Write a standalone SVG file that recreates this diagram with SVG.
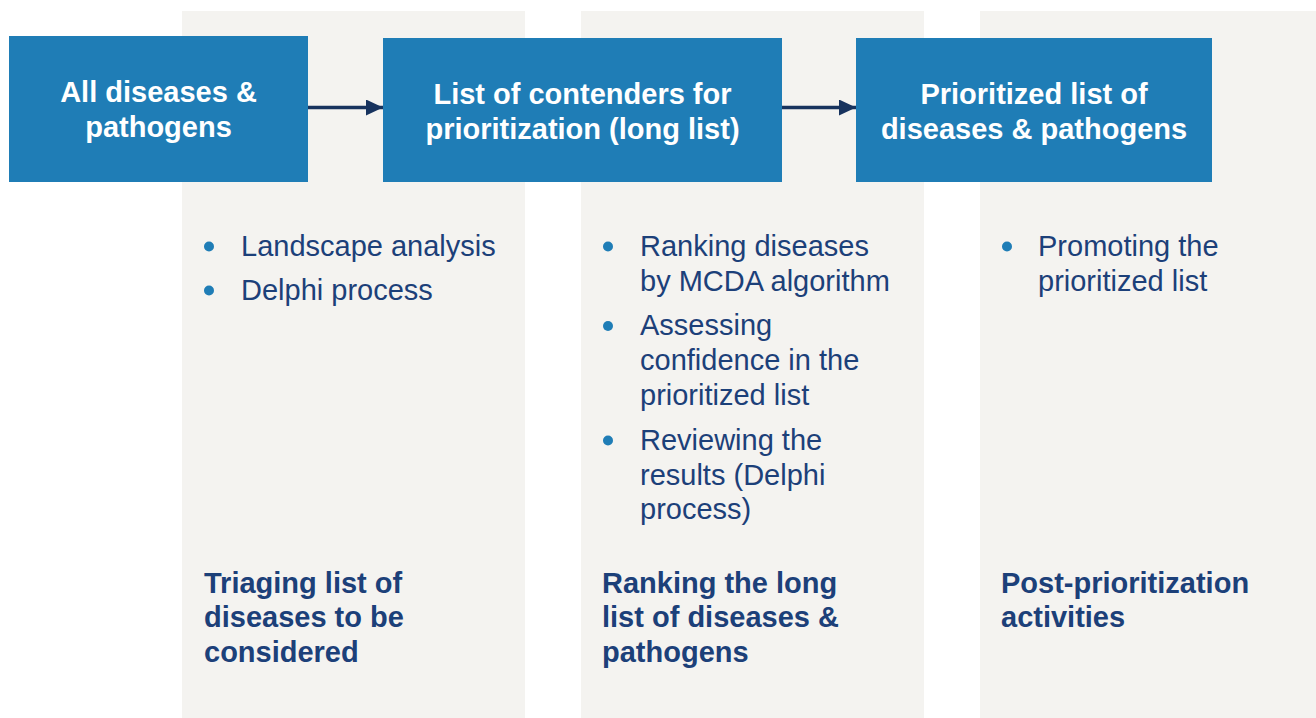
<svg xmlns="http://www.w3.org/2000/svg" width="1316" height="718" viewBox="0 0 1316 718">
<defs>
<style>
.panel{fill:#f4f3f0}
.box{fill:#1f7db6}
.bt{font-family:"Liberation Sans",Arial,sans-serif;font-weight:bold;font-size:29px;fill:#ffffff;text-anchor:middle}
.li{font-family:"Liberation Sans",Arial,sans-serif;font-size:29px;fill:#1c4079}
.ti{font-family:"Liberation Sans",Arial,sans-serif;font-weight:bold;font-size:29px;fill:#1c4079}
.dot{fill:#1f7db6}
.conn{stroke:#17335e;stroke-width:3.5;fill:none}
</style>
<marker id="ah" markerUnits="userSpaceOnUse" markerWidth="17" markerHeight="16" refX="17" refY="8" orient="auto">
<path d="M0,0 L17,8 L0,16 Z" fill="#17335e"/>
</marker>
</defs>
<rect width="1316" height="718" fill="#ffffff"/>
<g id="panels">
<rect class="panel" x="182" y="11" width="343" height="707"/>
<rect class="panel" x="581" y="11" width="343" height="707"/>
<rect class="panel" x="980" y="11" width="336" height="707"/>
</g>
<g id="connectors">
<line class="conn" x1="308" y1="107.5" x2="383" y2="107.5" marker-end="url(#ah)"/>
<line class="conn" x1="782" y1="107.5" x2="856" y2="107.5" marker-end="url(#ah)"/>
</g>
<g id="node1">
<rect class="box" x="9" y="36" width="299" height="146"/>
<text class="bt" x="158.5" y="102">All diseases &amp;</text>
<text class="bt" x="158.5" y="137">pathogens</text>
</g>
<g id="node2">
<rect class="box" x="383" y="38" width="399" height="144"/>
<text class="bt" x="582.5" y="103.5">List of contenders for</text>
<text class="bt" x="582.5" y="138.5">prioritization (long list)</text>
</g>
<g id="node3">
<rect class="box" x="856" y="38" width="356" height="144"/>
<text class="bt" x="1034" y="103.5">Prioritized list of</text>
<text class="bt" x="1034" y="138.5">diseases &amp; pathogens</text>
</g>
<g id="list1">
<circle class="dot" cx="209" cy="246.5" r="5"/>
<text class="li" x="241" y="256">Landscape analysis</text>
<circle class="dot" cx="209" cy="290.5" r="5"/>
<text class="li" x="241" y="300">Delphi process</text>
<text class="ti" x="204" y="593">Triaging list of</text>
<text class="ti" x="204" y="627">diseases to be</text>
<text class="ti" x="204" y="662">considered</text>
</g>
<g id="list2">
<circle class="dot" cx="608" cy="246.5" r="5"/>
<text class="li" x="640" y="256">Ranking diseases</text>
<text class="li" x="640" y="291">by MCDA algorithm</text>
<circle class="dot" cx="608" cy="326" r="5"/>
<text class="li" x="640" y="335">Assessing</text>
<text class="li" x="640" y="370">confidence in the</text>
<text class="li" x="640" y="405">prioritized list</text>
<circle class="dot" cx="608" cy="440.5" r="5"/>
<text class="li" x="640" y="450">Reviewing the</text>
<text class="li" x="640" y="485">results (Delphi</text>
<text class="li" x="640" y="519">process)</text>
<text class="ti" x="602" y="593">Ranking the long</text>
<text class="ti" x="602" y="627">list of diseases &amp;</text>
<text class="ti" x="602" y="662">pathogens</text>
</g>
<g id="list3">
<circle class="dot" cx="1007" cy="246.5" r="5"/>
<text class="li" x="1038" y="256">Promoting the</text>
<text class="li" x="1038" y="291">prioritized list</text>
<text class="ti" x="1001" y="593">Post-prioritization</text>
<text class="ti" x="1001" y="627">activities</text>
</g>
</svg>
